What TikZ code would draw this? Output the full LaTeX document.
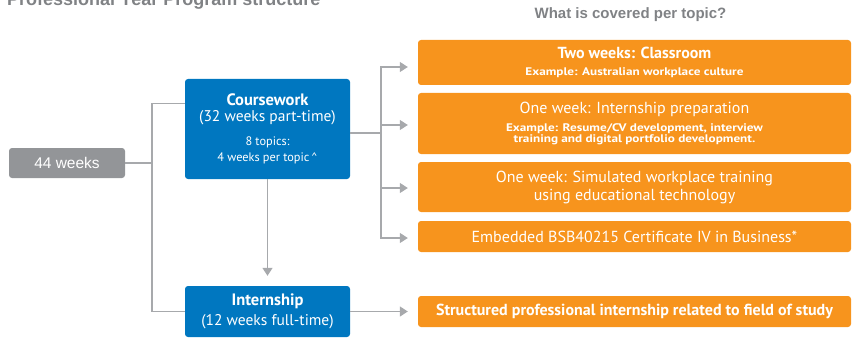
\documentclass[tikz,border=0pt]{standalone}
\usepackage{fontspec}
\setmainfont{PT Sans}
\newfontfamily\headfont{Liberation Sans}
\newfontfamily\condfont[FakeStretch=1.2]{PT Sans}
\usetikzlibrary{arrows.meta}

\definecolor{pyblue}{HTML}{0077C0}
\definecolor{pyorange}{HTML}{F7941D}
\definecolor{pygray}{HTML}{939598}
\definecolor{pyline}{HTML}{A7A9AC}
\definecolor{pytext}{HTML}{808285}

\newcommand\mainf{\fontsize{16}{18}\selectfont}
\newcommand\subf{\condfont\bfseries\fontsize{11}{11.5}\selectfont}

\tikzset{
  box/.style={rounded corners=3pt,text=white,align=center,inner sep=2pt},
  bluebox/.style={box,fill=pyblue,minimum width=165pt},
  orangebox/.style={box,fill=pyorange,minimum width=433pt},
  graybox/.style={box,fill=pygray,minimum width=116pt,minimum height=30pt},
  conn/.style={draw=pyline,line width=1.4pt},
  arr/.style={conn,-{Triangle[width=10pt,length=8pt]},shorten >=10pt}
}

\begin{document}
\begin{tikzpicture}[x=1pt,y=1pt]
        \useasboundingbox (0,0) rectangle (866,354);
        % headings
        \node[anchor=base west,text=pytext,inner sep=0pt] (title) at (7,348)
            {\headfont\bfseries\fontsize{18}{20}\selectfont Professional Year Program structure};
        \node[text=pytext,font=\headfont\bfseries\fontsize{15}{17}\selectfont] (head) at (630.5,339)
            {What is covered per topic?};
        % left column
        \node[graybox,font=\headfont\fontsize{15.5}{17}\selectfont] (weeks) at (67,191) {44 weeks};
        \node[bluebox,minimum height=100pt,font=\fontsize{12.3}{16}\selectfont] (course) at (267.5,225)
            {{\bfseries\fontsize{16.5}{17}\selectfont Coursework}\\
             {\fontsize{15.5}{17}\selectfont (32 weeks part-time)}\\[8pt]
             8 topics:\\
             4 weeks per topic\,\^{}};
        \node[bluebox,minimum height=51pt,font=\fontsize{15.5}{20}\selectfont] (intern) at (267.5,42.5)
            {{\bfseries\fontsize{16.5}{20}\selectfont Internship}\\
             (12 weeks full-time)};
        % topics
        \node[orangebox,minimum height=45pt,font=\subf] (t1) at (634.5,291.5)
            {{\normalfont\mainf\bfseries Two weeks: Classroom}\\[5pt]
             Example: Australian workplace culture};
        \node[orangebox,minimum height=61pt,font=\subf] (t2) at (634.5,230.5)
            {{\normalfont\mainf One week: Internship preparation}\\[6pt]
             Example: Resume/CV development, interview\\
             training and digital portfolio development.};
        \node[orangebox,minimum height=50pt,font=\mainf] (t3) at (634.5,167)
            {One week: Simulated workplace training\\
             using educational technology};
        \node[orangebox,minimum height=31pt,font=\mainf] (t4) at (634.5,117.5)
            {Embedded BSB40215 Certificate IV in Business*};
        \node[orangebox,minimum height=31pt,font=\mainf\bfseries] (field) at (634.5,42.5)
            {Structured professional internship related to field of study};
        % connectors
        \coordinate (trunk) at (152,191);
        \coordinate (hub) at (381,221);
        \draw[conn] (weeks.east) -- (trunk);
        \draw[conn] ([yshift=-25pt]course.north west) -- ++(-33,0) |- (intern.west);
        \draw[arr] (course.south) -- (intern.north);
        \draw[conn] ([yshift=-4pt]course.east) -- (hub);
        \draw[arr] (hub) |- ([yshift=-4.5pt]t1.west);
        \draw[arr] (hub) |- ([yshift=-1.5pt]t2.west);
        \draw[arr] (hub) |- ([yshift=-1pt]t3.west);
        \draw[arr] (hub) |- ([yshift=-1.5pt]t4.west);
        \draw[arr] (intern.east) -- (field.west);
    \end{tikzpicture}
\end{document}
